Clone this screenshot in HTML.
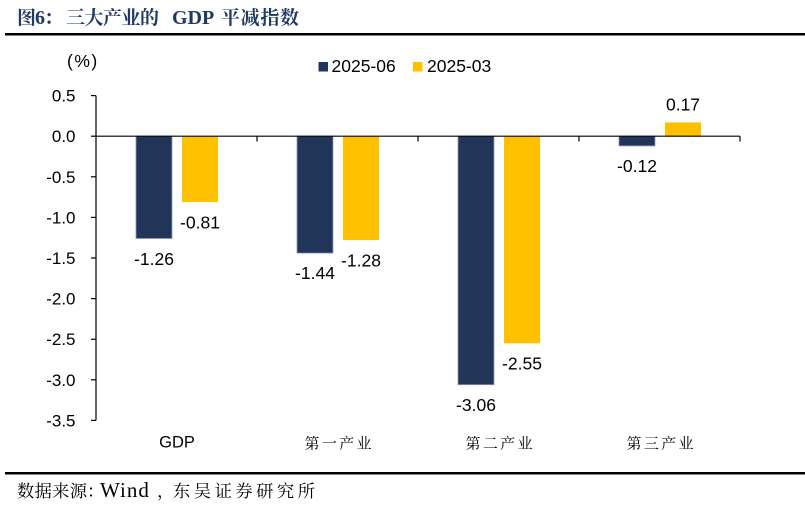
<!DOCTYPE html>
<html>
<head>
<meta charset="utf-8">
<style>
  html, body { margin:0; padding:0; background:#fff; }
  body { width:805px; height:506px; overflow:hidden; }
  svg { display:block; }
  .sans { font-family: "Liberation Sans", Arial, sans-serif; }
</style>
</head>
<body>
<svg width="805" height="506" viewBox="0 0 805 506" xmlns="http://www.w3.org/2000/svg">
  <!-- Title -->
  <g fill="#1F3864" font-weight="bold">
    <text x="17" y="24" font-family="'Noto Serif CJK SC', serif" font-size="19">图</text>
    <text x="35" y="24" font-family="'Liberation Serif', serif" font-size="20">6</text>
    <text x="44" y="24" font-family="'Noto Serif CJK SC', serif" font-size="19">：</text>
    <text x="66" y="24" font-family="'Noto Serif CJK SC', serif" font-size="19" textLength="93">三大产业的</text>
    <text x="172" y="24" font-family="'Liberation Serif', serif" font-size="20">GDP</text>
    <text x="221" y="24" font-family="'Noto Serif CJK SC', serif" font-size="19" textLength="78">平减指数</text>
  </g>
  <rect x="5" y="33" width="800" height="2.5" fill="#000"/>

  <!-- (%) -->
  <text x="67" y="67" class="sans" font-size="17.5" letter-spacing="1.5" fill="#000">(%)</text>

  <!-- Legend -->
  <rect x="318.5" y="62" width="9.5" height="9.5" fill="#213559"/>
  <text x="331.5" y="72" class="sans" font-size="17.5" fill="#000">2025-06</text>
  <rect x="413" y="62" width="9.5" height="9.5" fill="#FFC000"/>
  <text x="427" y="72" class="sans" font-size="17.5" fill="#000">2025-03</text>

  <!-- Y axis -->
  <line x1="96" y1="95.6" x2="96" y2="420.4" stroke="#000" stroke-width="1.2"/>
  <g stroke="#000" stroke-width="1.2">
    <line x1="91" y1="95.6" x2="96" y2="95.6"/>
    <line x1="91" y1="136.2" x2="96" y2="136.2"/>
    <line x1="91" y1="176.8" x2="96" y2="176.8"/>
    <line x1="91" y1="217.4" x2="96" y2="217.4"/>
    <line x1="91" y1="258" x2="96" y2="258"/>
    <line x1="91" y1="298.6" x2="96" y2="298.6"/>
    <line x1="91" y1="339.2" x2="96" y2="339.2"/>
    <line x1="91" y1="379.8" x2="96" y2="379.8"/>
    <line x1="91" y1="420.4" x2="96" y2="420.4"/>
  </g>
  <g class="sans" font-size="17" fill="#000" text-anchor="end">
    <text x="75.5" y="101.6">0.5</text>
    <text x="75.5" y="142.2">0.0</text>
    <text x="75.5" y="182.8">-0.5</text>
    <text x="75.5" y="223.4">-1.0</text>
    <text x="75.5" y="264">-1.5</text>
    <text x="75.5" y="304.6">-2.0</text>
    <text x="75.5" y="345.2">-2.5</text>
    <text x="75.5" y="385.8">-3.0</text>
    <text x="75.5" y="426.4">-3.5</text>
  </g>

  <!-- Bars -->
  <g stroke="#8C9BB2" stroke-width="0.8">
    <rect x="136" y="136.2" width="36" height="102.3" fill="#213559"/>
    <rect x="297" y="136.2" width="36" height="116.9" fill="#213559"/>
    <rect x="458" y="136.2" width="36" height="248.5" fill="#213559"/>
    <rect x="619" y="136.2" width="36" height="9.7" fill="#213559"/>
  </g>
  <g fill="#FFC000">
    <rect x="182" y="136.2" width="36" height="65.8"/>
    <rect x="343" y="136.2" width="36" height="103.9"/>
    <rect x="504" y="136.2" width="36" height="207.1"/>
    <rect x="665" y="122.4" width="36" height="13.8"/>
  </g>

  <!-- X axis -->
  <line x1="96" y1="136.2" x2="740" y2="136.2" stroke="#000" stroke-width="1.2"/>
  <g stroke="#000" stroke-width="1.2">
    <line x1="257" y1="136.2" x2="257" y2="141.5"/>
    <line x1="418" y1="136.2" x2="418" y2="141.5"/>
    <line x1="579" y1="136.2" x2="579" y2="141.5"/>
    <line x1="740" y1="136.2" x2="740" y2="141.5"/>
  </g>

  <!-- Data labels -->
  <g class="sans" font-size="17.5" fill="#000" text-anchor="middle">
    <text x="154" y="265">-1.26</text>
    <text x="200" y="228.5">-0.81</text>
    <text x="315" y="279">-1.44</text>
    <text x="361" y="266.7">-1.28</text>
    <text x="476" y="410.8">-3.06</text>
    <text x="522" y="369.5">-2.55</text>
    <text x="637" y="171.8">-0.12</text>
    <text x="683" y="110.5">0.17</text>
  </g>

  <!-- Category labels -->
  <text x="177" y="447.5" class="sans" font-size="16.5" fill="#000" text-anchor="middle">GDP</text>
  <g font-family="'Noto Serif CJK SC', serif" font-size="15" fill="#000">
    <text x="304.5" y="448.5" textLength="67" lengthAdjust="spacing">第一产业</text>
    <text x="465.5" y="448.5" textLength="67" lengthAdjust="spacing">第二产业</text>
    <text x="626.5" y="448.5" textLength="67" lengthAdjust="spacing">第三产业</text>
  </g>

  <!-- Bottom rule and source -->
  <rect x="5" y="472" width="800" height="2.5" fill="#000"/>
  <g fill="#000">
    <text x="17" y="497" font-family="'Noto Serif CJK SC', serif" font-size="17.3" textLength="70" lengthAdjust="spacing">数据来源</text>
    <text x="87" y="497" font-family="'Noto Serif CJK SC', serif" font-size="17.3">：</text>
    <text x="100" y="497" font-family="'Liberation Serif', serif" font-size="21" letter-spacing="1">Wind</text>
    <text x="157" y="497" font-family="'Noto Serif CJK SC', serif" font-size="17.3">，</text>
    <text x="173" y="497" font-family="'Noto Serif CJK SC', serif" font-size="17.3" textLength="142" lengthAdjust="spacing">东吴证券研究所</text>
  </g>
</svg>
</body>
</html>
